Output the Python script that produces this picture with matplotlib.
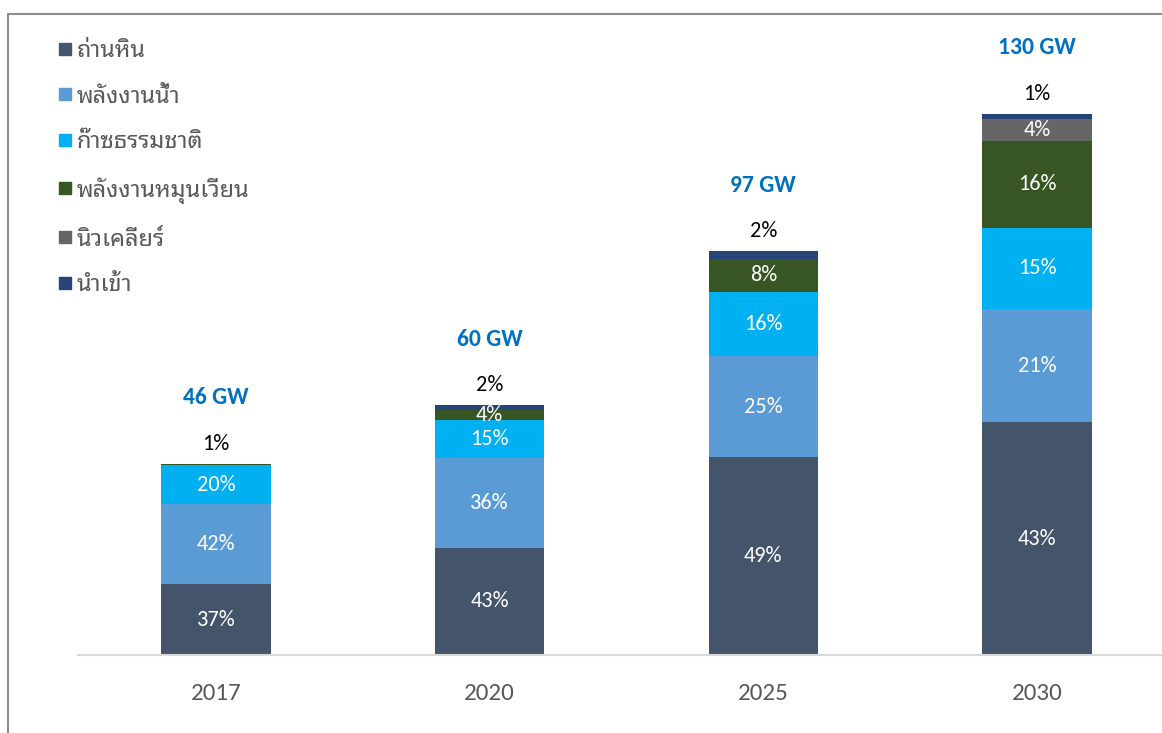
import matplotlib
matplotlib.use("Agg")
import matplotlib.pyplot as plt
from matplotlib.lines import Line2D
import numpy as np

plt.rcParams['font.family'] = ['Carlito', 'Noto Sans Thai Looped', 'IBM Plex Sans Thai Looped',
                               'Noto Sans Thai', 'DejaVu Sans']

# data
years = ['2017', '2020', '2025', '2030']
totals_gw = [46, 60, 97, 130]
sources = ['ถ่านหิน', 'พลังงานน้ำ', 'ก๊าซธรรมชาติ', 'พลังงานหมุนเวียน', 'นิวเคลียร์', 'นำเข้า']
coal = [37, 43, 49, 43]
hydro = [42, 36, 25, 21]
gas = [20, 15, 16, 15]
renewable = [1, 4, 8, 16]
nuclear = [0, 0, 0, 4]
imported = [0, 2, 2, 1]

colors = ['#44546A', '#5B9BD5', '#00B0F0', '#375623', '#666666', '#264478']
shares = [coal, hydro, gas, renewable, nuclear, imported]

fig = plt.figure(figsize=(11.62, 7.33), dpi=100)
ax = fig.add_axes([78 / 1162, 78 / 733, 1 - 78 / 1162, 641 / 733])

x = np.arange(len(years))
bottom = np.zeros(len(years))
for name, share, col in zip(sources, shares, colors):
    h = np.array(totals_gw) * np.array(share) / 100
    ax.bar(x, h, 0.4, bottom=bottom, color=col, label=name, edgecolor='none')
    for i in range(len(years)):
        if share[i] >= 4:
            ax.text(x[i], bottom[i] + h[i] / 2, f'{share[i]}%', ha='center', va='center',
                    color='white', fontsize=16)
    bottom = bottom + h

# small top shares printed above the bars, totals above them
for i in range(len(years)):
    top_share = [s[i] for s in shares if s[i] > 0][-1]
    ax.annotate(f'{top_share}%', (x[i], totals_gw[i]), xytext=(0, 20), textcoords='offset pixels',
                ha='center', va='center', fontsize=16, color='black')
    ax.annotate(f'{totals_gw[i]} GW', (x[i], totals_gw[i]), xytext=(0, 66), textcoords='offset pixels',
                ha='center', va='center', fontsize=17, fontweight='bold', color='#0070C0')

ax.set_xlim(-0.504, 3.457)
ax.set_ylim(0, 154)
ax.set_xticks(x)
ax.set_xticklabels(years, fontsize=18, color='#595959')
ax.tick_params(axis='x', length=0, pad=20)
ax.set_yticks([])
for s in ['top', 'right', 'left']:
    ax.spines[s].set_visible(False)
ax.spines['bottom'].set_color('#D9D9D9')
ax.spines['bottom'].set_linewidth(1.5)

handles = [Line2D([], [], marker='s', linestyle='none', markersize=8, color=c) for c in colors]
fig.legend(handles, sources, loc='upper left', bbox_to_anchor=(46 / 1162, 1 - 28 / 733),
           frameon=False, fontsize=17, labelcolor='#595959', handlelength=0.6,
           handletextpad=0.2, labelspacing=1.05, borderpad=0)

# outer frame (top and left edges)
fig.add_artist(Line2D([8 / 1162, 8 / 1162, 1], [0, 1 - 14 / 733, 1 - 14 / 733],
                      color='#8C8C8C', linewidth=1.5))

fig.savefig('out.png')
